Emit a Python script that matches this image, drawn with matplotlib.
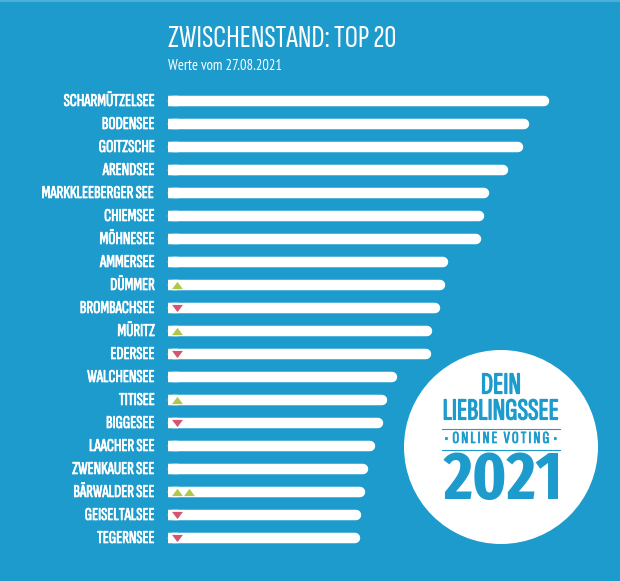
import numpy as np
import matplotlib
matplotlib.use("Agg")
import matplotlib.pyplot as plt
import matplotlib.patheffects as pe
from matplotlib import font_manager as fm
from matplotlib.patches import Circle

lakes = ["SCHARMÜTZELSEE", "BODENSEE", "GOITZSCHE", "ARENDSEE", "MARKKLEEBERGER SEE",
         "CHIEMSEE", "MÖHNESEE", "AMMERSEE", "DÜMMER", "BROMBACHSEE", "MÜRITZ", "EDERSEE",
         "WALCHENSEE", "TITISEE", "BIGGESEE", "LAACHER SEE", "ZWENKAUER SEE",
         "BÄRWALDER SEE", "GEISELTALSEE", "TEGERNSEE"]
votes = [381, 361, 355, 340, 321, 316, 313, 280, 277, 272,
         264, 263, 229, 219, 215, 207, 200, 197, 193, 192]
moves = [0, 0, 0, 0, 0, 0, 0, 0, 1, -1, 1, -1, 0, 1, -1, 0, 0, 2, -1, -1]

BLUE = "#1D9BCD"
GREEN = "#AFC84A"
RED = "#D6546F"

# narrow fonts are not everywhere, so take what is there
names = {f.name for f in fm.fontManager.ttflist}
wanted = ["Sofia Sans Extra Condensed", "League Gothic", "Fira Sans Extra Condensed", "Roboto"]
FONT = [f for f in wanted if f in names]
NARROW = [f for f in ["PT Sans Narrow", "Roboto"] if f in names]
HEAVY = [f for f in ["Fira Sans Extra Condensed", "Roboto"] if f in names]
plt.rcParams["font.family"] = FONT

UP = [(-5, -3.3), (5, -3.3), (0, 3.3)]
DOWN = [(-5, 3.3), (5, 3.3), (0, -3.3)]


def thick(width, color):
    # the narrow font has no bold cut here
    return [pe.withStroke(linewidth=width, foreground=color)]


fig = plt.figure(figsize=(6.2, 5.81), dpi=100, facecolor=BLUE)

# whole figure in pixels, y pointing down
ax = fig.add_axes([0, 0, 1, 1])
ax.set_xlim(-168, 452)
ax.set_ylim(581, 0)
ax.axis("off")
ax.axhspan(0, 1.5, color="#4BB0D8", linewidth=0)

ys = 101 + 23 * np.arange(len(lakes))
radius = 5
bars = ax.barh(ys, [radius * 2] * len(ys), height=10.5, color="white", linewidth=0)
for bar in bars:
    bar.set_snap(False)
body = ax.hlines(ys, radius, np.array(votes) - radius, color="white", linewidth=7.56, capstyle="round")
body.set_snap(False)

for y, lake, move in zip(ys, lakes, moves):
    ax.text(-13, y + 0.5, lake, ha="right", va="center", color="white", fontsize=13,
            path_effects=thick(0.5, "white"))
    for i in range(abs(move)):
        ax.scatter(9 + 12 * i, y, s=62, marker=UP if move > 0 else DOWN,
                   color=GREEN if move > 0 else RED, linewidth=0, zorder=3)

ax.text(0, 39, "ZWISCHENSTAND: TOP 20", ha="left", va="center", color="white", fontsize=23.8)
ax.text(0, 65.5, "Werte vom 27.08.2021", ha="left", va="center", color="white",
        fontsize=10.5, family=NARROW)

# badge
ax.add_patch(Circle((333, 447), 97, color="white", linewidth=0, zorder=4))
ax.text(333, 399, "DEIN\nLIEBLINGSSEE", ha="center", va="center", ma="center", color=BLUE,
        fontsize=22, linespacing=0.95, zorder=5, path_effects=thick(0.9, BLUE))
ax.plot([274, 392], [428.5, 428.5], color=BLUE, lw=0.8, zorder=5)
ax.plot([274, 392], [449.5, 449.5], color=BLUE, lw=0.8, zorder=5)
ax.text(333, 439, "•  O N L I N E   V O T I N G  •", ha="center", va="center", color=BLUE,
        fontsize=12.2, zorder=5, path_effects=thick(0.5, BLUE))
ax.text(335, 481, "2021", ha="center", va="center", color=BLUE, fontsize=49,
        fontweight="bold", family=HEAVY, zorder=5)

fig.savefig("out.png", dpi=100, facecolor=BLUE)
